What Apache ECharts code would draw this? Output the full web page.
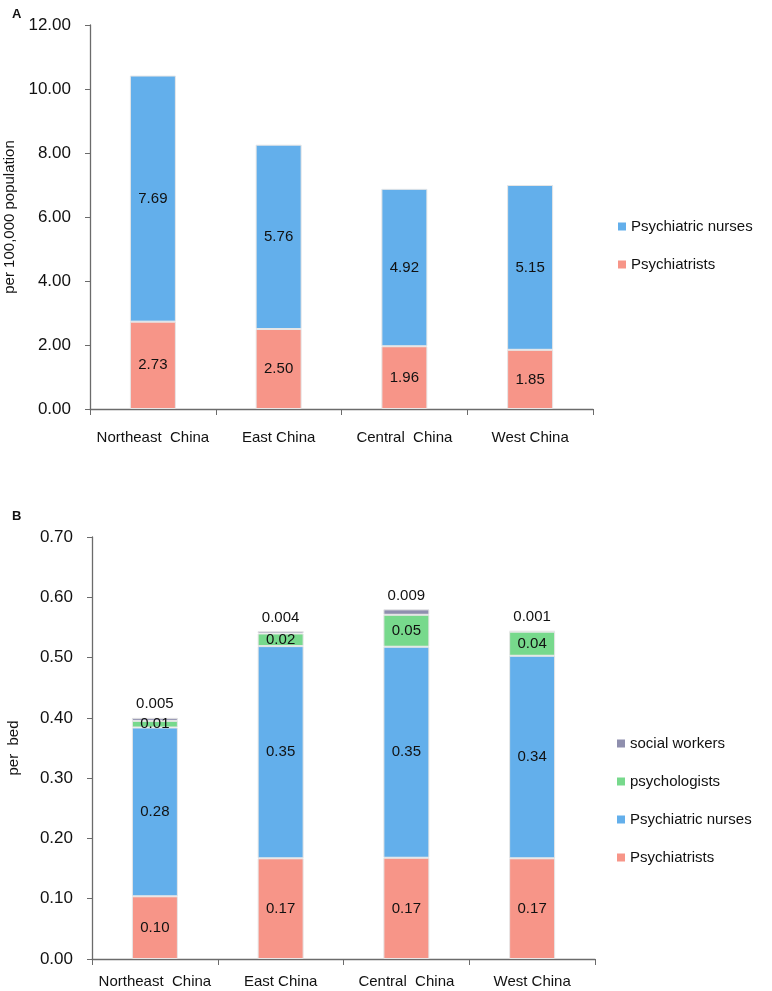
<!DOCTYPE html>
<html>
<head>
<meta charset="utf-8">
<script src="https://cdn.jsdelivr.net/npm/echarts@6/dist/echarts.min.js"></script>
<style>html,body{margin:0;padding:0;background:#fff}#c{width:772px;height:991px}</style>
</head>
<body>
<div id="c"></div>
<script>
const categories = ['Northeast  China', 'East China', 'Central  China', 'West China'];
// Panel A: per 100,000 population
const aPsychiatrists = [2.73, 2.50, 1.96, 1.85];
const aNurses = [7.69, 5.76, 4.92, 5.15];
const aTicks = [0, 2, 4, 6, 8, 10, 12];
// Panel B: per bed
const bPsychiatrists = [0.104, 0.167, 0.168, 0.167];
const bNurses = [0.28, 0.352, 0.35, 0.336];
const bPsychologists = [0.011, 0.021, 0.053, 0.04];
const bSocialWorkers = [0.005, 0.004, 0.009, 0.001];
const bTicks = [0, 0.1, 0.2, 0.3, 0.4, 0.5, 0.6, 0.7];

const C_PSY = '#F79588', C_NUR = '#63AFEB', C_PSO = '#77D98C', C_SOC = '#8F8FAE';
const font = 'Liberation Sans, Arial, sans-serif';
const axisColor = '#6b6b6b';
const lbl = (dec) => ({show: true, position: 'inside', color: '#111', fontSize: 15, fontFamily: font,
  formatter: p => p.value.toFixed(dec)});
const itemStyle = (c) => ({color: c, borderColor: '#e6e6e6', borderWidth: 1});

function yAxis(gi, max, interval, name, gap) {
  return {type: 'value', gridIndex: gi, min: 0, max: max, interval: interval,
    name: name, nameLocation: 'middle', nameGap: gap,
    nameTextStyle: {fontSize: 15, color: '#111', fontFamily: font},
    axisLine: {show: true, lineStyle: {color: axisColor, width: 1.3}},
    axisTick: {show: true, length: 5, lineStyle: {color: axisColor}},
    splitLine: {show: false},
    axisLabel: {fontSize: 17, color: '#111', margin: 19, fontFamily: font, formatter: v => v.toFixed(2)}};
}
function xAxis(gi, margin) {
  return {type: 'category', gridIndex: gi, data: categories,
    axisLine: {lineStyle: {color: axisColor, width: 1.3}},
    axisTick: {show: true, length: 6, lineStyle: {color: axisColor}},
    axisLabel: {fontSize: 15, color: '#111', margin: margin, interval: 0, fontFamily: font}};
}
const legendText = {fontSize: 15, color: '#111', fontFamily: font};

const chart = echarts.init(document.getElementById('c'), null, {renderer: 'canvas'});
chart.setOption({
  animation: false,
  backgroundColor: '#fff',
  title: [
    {text: 'A', left: 7, top: 3, textStyle: {fontSize: 13, fontWeight: 'bold', color: '#111', fontFamily: font}},
    {text: 'B', left: 7, top: 505, textStyle: {fontSize: 13, fontWeight: 'bold', color: '#111', fontFamily: font}}
  ],
  grid: [
    {left: 90, right: 179, top: 25, height: 384, containLabel: false, outerBoundsMode: 'none'},
    {left: 92, right: 177, top: 537, height: 422, containLabel: false, outerBoundsMode: 'none'}
  ],
  xAxis: [xAxis(0, 21), xAxis(1, 15)],
  yAxis: [yAxis(0, aTicks[aTicks.length - 1], aTicks[1] - aTicks[0], 'per 100,000 population', 67),
          yAxis(1, bTicks[bTicks.length - 1], 0.1, 'per  bed', 71)],
  legend: [
    {orient: 'vertical', left: 613, top: 214, itemWidth: 8, itemHeight: 8, itemGap: 23,
     itemStyle: {borderWidth: 0}, textStyle: legendText,
     data: ['Psychiatric nurses', 'Psychiatrists'].map(n => ({name: n, icon: 'rect'}))},
    {orient: 'vertical', left: 612, top: 731, itemWidth: 8, itemHeight: 8, itemGap: 23,
     itemStyle: {borderWidth: 0}, textStyle: legendText,
     data: ['social workers', 'psychologists', 'Psychiatric nurses', 'Psychiatrists'].map(n => ({name: n, icon: 'rect'}))}
  ],
  series: [
    {name: 'Psychiatrists', type: 'bar', stack: 'a', xAxisIndex: 0, yAxisIndex: 0, barWidth: 46,
     data: aPsychiatrists, itemStyle: itemStyle(C_PSY), label: lbl(2)},
    {name: 'Psychiatric nurses', type: 'bar', stack: 'a', xAxisIndex: 0, yAxisIndex: 0, barWidth: 46,
     data: aNurses, itemStyle: itemStyle(C_NUR), label: lbl(2)},
    {name: 'Psychiatrists', type: 'bar', stack: 'b', xAxisIndex: 1, yAxisIndex: 1, barWidth: 46,
     data: bPsychiatrists, itemStyle: itemStyle(C_PSY), label: lbl(2)},
    {name: 'Psychiatric nurses', type: 'bar', stack: 'b', xAxisIndex: 1, yAxisIndex: 1, barWidth: 46,
     data: bNurses, itemStyle: itemStyle(C_NUR), label: lbl(2)},
    {name: 'psychologists', type: 'bar', stack: 'b', xAxisIndex: 1, yAxisIndex: 1, barWidth: 46,
     data: bPsychologists, itemStyle: itemStyle(C_PSO), label: lbl(2)},
    {name: 'social workers', type: 'bar', stack: 'b', xAxisIndex: 1, yAxisIndex: 1, barWidth: 46,
     data: bSocialWorkers, itemStyle: itemStyle(C_SOC),
     label: {show: true, position: 'top', distance: 6, color: '#111', fontSize: 15, fontFamily: font,
             formatter: p => p.value.toFixed(3)}}
  ]
});
</script>
</body>
</html>
